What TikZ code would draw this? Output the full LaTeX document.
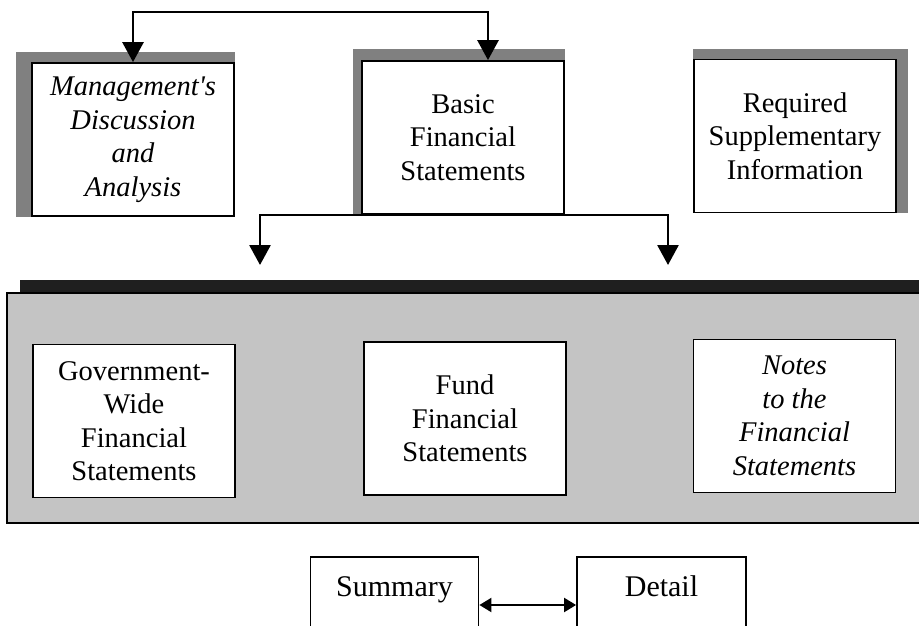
\documentclass[tikz,border=0pt]{standalone}
\usepackage{fontspec}
\setmainfont{Liberation Serif}
\usetikzlibrary{arrows.meta,backgrounds}

\newcommand{\fonte}{\fontsize{28.5}{33.5}\selectfont}

\tikzset{
	caixa/.style={draw, line width=1.8pt, fill=white, inner sep=0pt,
		minimum width=202pt, minimum height=153pt, align=center, font=\fonte},
	caixab/.style={draw, line width=1.8pt, fill=white, inner sep=0pt,
		minimum width=168pt, minimum height=96pt,
		text height=20pt, text depth=38pt, font=\fontsize{30}{36}\selectfont},
	sombra/.style={fill=black!50},
	conector/.style={line width=2.8pt, >={Triangle[length=20pt,width=21pt]}, <->},
	seta/.style={line width=2pt, >={Triangle[length=12pt,width=14pt]}, <->}
}

\begin{document}
\begin{tikzpicture}[x=1pt,y=-1pt]
	\path[use as bounding box, clip] (0,0) rectangle (919,626);

% faixa e area sombreada
	\fill[black!88] (20,280) rectangle (930,292);
	\filldraw[fill=black!23, line width=1.2pt] (7,293) rectangle (930,523);

% caixas superiores
	\node[caixa, font=\fonte\itshape] (mda) at (133,139.5) {Management\textquotesingle s\\Discussion\\and\\Analysis};
	\node[caixa] (bfs) at (463,137.5) {Basic\\Financial\\Statements};
	\node[caixa] (rsi) at (795,136) {Required\\Supplementary\\Information};

	\begin{scope}[on background layer]
		\fill[sombra] ([shift={(-15,-10)}]mda.north west) rectangle (mda.south east);
		\fill[sombra] ([shift={(-8,-11)}]bfs.north west) rectangle (bfs.south east);
		\fill[sombra] ([shift={(0,-10)}]rsi.north west) rectangle ([xshift=11pt]rsi.south east);
	\end{scope}

% caixas das demonstracoes
	\node[caixa] (gwfs) at (134,421) {Government-\\Wide\\Financial\\Statements};
	\node[caixa] (ffs) at (465,418.5) {Fund\\Financial\\Statements};
	\node[caixa, font=\fonte\itshape] (nfs) at (794.5,416) {Notes\\to the\\Financial\\Statements};

% conectores
	\coordinate (setaE) at (260,265);
	\coordinate (setaD) at (668,265);
	\draw[conector] (mda.north) -- ++(0,-50) -| ([xshift=25pt]bfs.north);
	\draw[conector] (setaE) |- (bfs.south) -| (setaD);

% resumo e detalhe
	\node[caixab] (resumo) at (394.5,605) {Summary};
	\node[caixab, minimum width=169pt] (detalhe) at (661.5,605) {Detail};
	\draw[seta] (resumo) -- (detalhe);
\end{tikzpicture}
\end{document}
